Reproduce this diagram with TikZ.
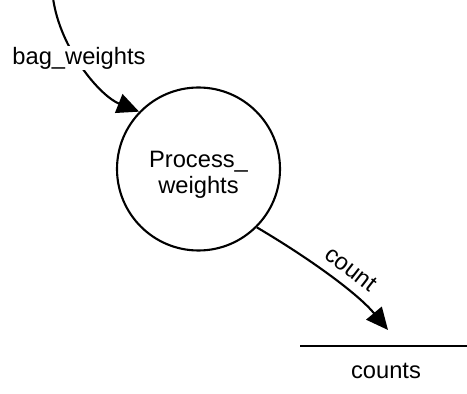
\documentclass[tikz,border=0pt]{standalone}
\usepackage{fontspec}
\setmainfont{Liberation Sans}
\usetikzlibrary{arrows.meta}
\begin{document}
\begin{tikzpicture}[x=1pt,y=1pt,
  lbl/.style={font=\fontsize{23.7}{26}\selectfont, inner sep=1pt},
  flow/.style={line width=2.1pt, -{Triangle[length=22pt,width=20pt]}},
  proc/.style={circle, draw, line width=2.1pt, minimum size=163pt}]
\useasboundingbox (0,0) rectangle (467,394);
\node[proc] (p) at (198.5,225) {};
\node[lbl, align=center, yshift=-6pt] (pt) at (p.center) {Process\_\\weights};
\coordinate (src) at (53,396);
\draw[flow] (src) .. controls (60,345) and (100,298) .. (p.136);
\node[lbl, fill=white] (bw) at (79,336) {bag\_weights};
\coordinate (st) at (388,64);
\draw[flow] (p.-45) .. controls (312,134) and (358,100) .. (st);
\node[lbl, rotate=-38] (cnt) at (351,125) {count};
\coordinate (dsl) at (300,48);
\coordinate (dsr) at (467,48);
\draw[line width=2.1pt] (dsl) -- (dsr);
\node[lbl] (ds) at (386,23) {counts};
\end{tikzpicture}
\end{document}
